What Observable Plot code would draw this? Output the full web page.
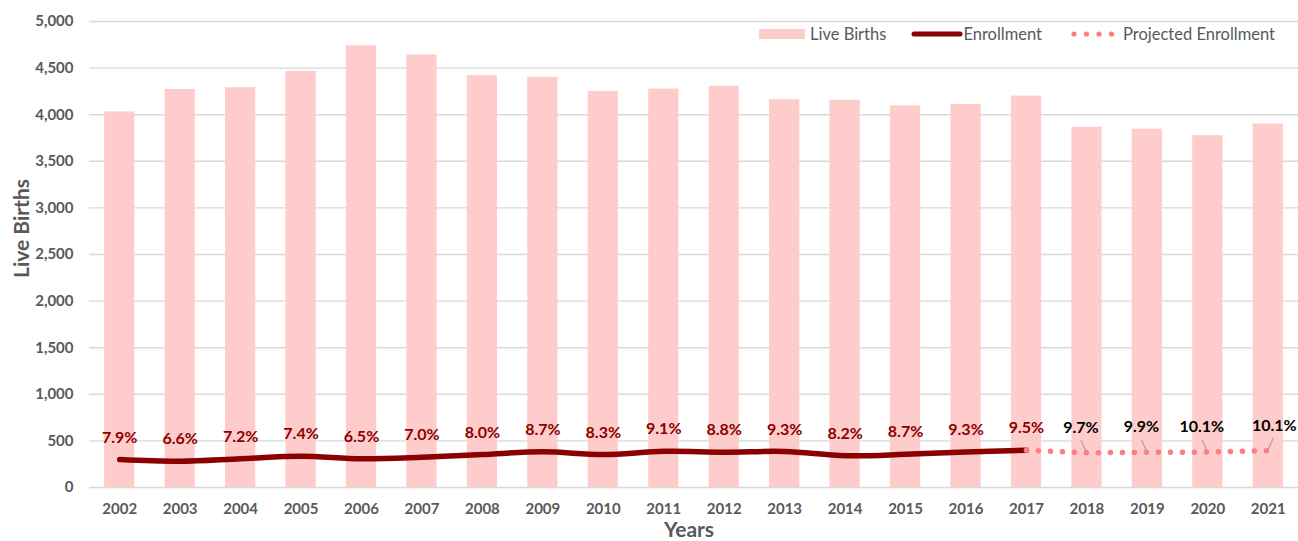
<!DOCTYPE html>
<html><head><meta charset="utf-8">
<script src="https://cdn.jsdelivr.net/npm/d3@7"></script>
<script src="https://cdn.jsdelivr.net/npm/@observablehq/plot@0.6"></script>
<style>
body{margin:0;background:#fff;font-family:Lato,"Noto Sans",sans-serif;}
#wrap{position:relative;width:1298px;height:541px;overflow:hidden;}
#chart{position:absolute;left:0;top:0;}
#legend{position:absolute;top:24px;left:759px;display:flex;align-items:center;font-size:16.5px;color:#595959;white-space:nowrap;z-index:2;}
#legend .sw{display:inline-block;width:46px;height:10px;background:#ffcccc;margin-right:5px;}
#legend svg{display:block;}
</style></head><body>
<div id="wrap">
  <div id="chart"></div>
  <div id="legend">
    <span class="sw"></span><span>Live Births</span>
    <svg width="52" height="12" style="margin-left:25px"><line x1="3" y1="6" x2="49" y2="6" stroke="#8b0000" stroke-width="5" stroke-linecap="round"/></svg><span>Enrollment</span>
    <svg width="48" height="12" style="margin-left:28px"><g fill="#ff7c80"><circle cx="4" cy="6" r="2.6"/><circle cx="16.5" cy="6" r="2.6"/><circle cx="29" cy="6" r="2.6"/><circle cx="41.5" cy="6" r="2.6"/></g></svg><span style="margin-left:5px">Projected Enrollment</span>
  </div>
</div>
<script>
// ---- data ----
const years = ["2002","2003","2004","2005","2006","2007","2008","2009","2010","2011","2012","2013","2014","2015","2016","2017","2018","2019","2020","2021"];
const liveBirths = [4030, 4270, 4290, 4465, 4740, 4640, 4420, 4400, 4250, 4275, 4305, 4160, 4155, 4095, 4110, 4200, 3865, 3845, 3775, 3900];
const enrollYears = ["2002","2003","2004","2005","2006","2007","2008","2009","2010","2011","2012","2013","2014","2015","2016","2017"];
const enrollment = [300, 282, 309, 335, 308, 325, 354, 383, 353, 389, 379, 387, 341, 356, 382, 399];
const enrollPct = ["7.9%","6.6%","7.2%","7.4%","6.5%","7.0%","8.0%","8.7%","8.3%","9.1%","8.8%","9.3%","8.2%","8.7%","9.3%","9.5%"];
const projYears = ["2017","2018","2019","2020","2021"];
const projected = [399, 372, 378, 380, 396];
const projLabelYears = ["2018","2019","2020","2021"];
const projPct = ["9.7%","9.9%","10.1%","10.1%"];
const yTicks = [0, 500, 1000, 1500, 2000, 2500, 3000, 3500, 4000, 4500, 5000];

// ---- tables built from arrays ----
const births = years.map((y, i) => ({year: y, value: liveBirths[i]}));
const enroll = enrollYears.map((y, i) => ({year: y, value: enrollment[i], pct: enrollPct[i]}));
const proj = projYears.map((y, i) => ({year: y, value: projected[i]}));
const projLabels = projLabelYears.map((y, i) => ({year: y, value: projected[projYears.indexOf(y)], pct: projPct[i], side: i === projLabelYears.length - 1 ? 1 : -1}));
const projLeft = projLabels.filter(d => d.side < 0);
const projRight = projLabels.filter(d => d.side > 0);

const gray = "#595959";

// leader lines for projected labels, drawn through the plot's scales
function leaders(index, scales) {
  const g = d3.create("svg:g").attr("stroke", "#a6a6a6").attr("stroke-width", 1.3);
  const bw = typeof scales.x.bandwidth === "function" ? scales.x.bandwidth() : 0;
  for (const d of projLabels) {
    const px = scales.x(d.year) + bw / 2;
    const py = scales.y(d.value);
    g.append("line")
      .attr("x1", px + d.side * 0.5).attr("y1", py - 1)
      .attr("x2", px + d.side * 5.5).attr("y2", py - 12);
  }
  return g.node();
}

const chart = Plot.plot({
  width: 1298,
  height: 541,
  marginTop: 21,
  marginBottom: 54,
  marginLeft: 89,
  marginRight: 0,
  style: {fontFamily: "Lato, 'Noto Sans', sans-serif", background: "transparent", overflow: "visible"},
  x: {domain: years, type: "band", paddingInner: 0.5, paddingOuter: 0.25, round: false, label: null},
  y: {domain: [0, 5000], label: null},
  marks: [
    Plot.gridY(yTicks, {stroke: "#d9d9d9", strokeOpacity: 1, strokeWidth: 1.4}),
    Plot.barY(births, {x: "year", y: "value", fill: "#ffcccc"}),
    Plot.axisY(yTicks, {tickSize: 0, tickPadding: 16, tickFormat: d3.format(","), fontSize: 15, fontWeight: "bold", fill: gray, label: null}),
    Plot.axisX({tickSize: 0, tickPadding: 16, fontSize: 15, fontWeight: "bold", fill: gray, label: null}),
    Plot.line(enroll, {x: "year", y: "value", stroke: "#8b0000", strokeWidth: 5.5, curve: "catmull-rom", strokeLinecap: "round"}),
    Plot.line(proj, {x: "year", y: "value", stroke: "#ff7c80", strokeWidth: 5.5, strokeDasharray: "0 12", strokeLinecap: "round"}),
    Plot.text(enroll, {x: "year", y: "value", text: "pct", dy: -22, fill: "#8b0000", fontSize: 16, fontWeight: "bold"}),
    Plot.text(projLeft, {x: "year", y: "value", text: "pct", dy: -25, dx: -6, fill: "#000", fontSize: 16, fontWeight: "bold"}),
    Plot.text(projRight, {x: "year", y: "value", text: "pct", dy: -25, dx: 6, fill: "#000", fontSize: 16, fontWeight: "bold"}),
    leaders,
    Plot.text(["Live Births"], {frameAnchor: "left", rotate: -90, dx: -67, dy: -26, textAnchor: "middle", lineAnchor: "middle", fontSize: 21, fontWeight: "bold", fill: gray}),
    Plot.text(["Years"], {frameAnchor: "bottom", dx: -5, dy: 43, textAnchor: "middle", lineAnchor: "middle", fontSize: 21, fontWeight: "bold", fill: gray})
  ]
});
document.getElementById("chart").appendChild(chart);
</script>
</body></html>
